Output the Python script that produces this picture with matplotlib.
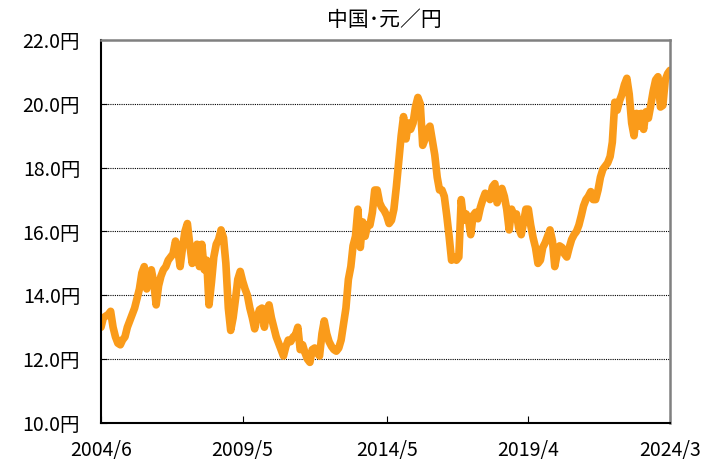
import matplotlib
matplotlib.use("Agg")
import matplotlib.pyplot as plt
import pandas as pd

plt.rcParams['font.family'] = ['Noto Sans CJK JP', 'DejaVu Sans']

title = "中国･元／円"
start_month = "2004-06-01"
rate = [
    13.0, 13.3, 13.35, 13.4, 13.5, 13.0, 12.7, 12.5, 12.45, 12.6,
    12.7, 13.0, 13.2, 13.4, 13.6, 13.9, 14.2, 14.7, 14.9, 14.2,
    14.7, 14.8, 14.4, 13.7, 14.3, 14.6, 14.8, 14.9, 15.1, 15.2,
    15.3, 15.7, 15.4, 14.9, 15.5, 16.0, 16.25, 15.6, 15.0, 15.3,
    15.6, 14.9, 15.6, 14.8, 15.1, 13.7, 14.4, 15.2, 15.6, 15.75,
    16.05, 15.8, 15.0, 13.6, 12.9, 13.3, 13.9, 14.5, 14.75, 14.45,
    14.2, 14.0, 13.6, 13.3, 12.95, 13.3, 13.55, 13.6, 13.0, 13.5,
    13.7, 13.3, 13.0, 12.7, 12.5, 12.3, 12.1, 12.4, 12.6, 12.55,
    12.7, 12.75, 13.0, 12.3, 12.45, 12.2, 12.0, 11.9, 12.3, 12.35,
    12.2, 12.1, 12.8, 13.2, 12.8, 12.55, 12.4, 12.3, 12.25, 12.35,
    12.6, 13.1, 13.6, 14.5, 14.9, 15.55, 15.85, 16.7, 15.5, 16.3,
    15.85, 16.2, 16.2, 16.6, 17.3, 17.3, 16.9, 16.75, 16.65, 16.5,
    16.25, 16.35, 16.7, 17.4, 18.2, 19.0, 19.6, 18.9, 19.4, 19.2,
    19.4, 19.9, 20.2, 20.0, 18.7, 18.9, 19.2, 19.3, 18.85, 18.4,
    17.7, 17.3, 17.3, 17.1, 16.5, 15.85, 15.1, 15.2, 15.1, 15.2,
    17.0, 16.35, 16.55, 16.4, 15.9, 16.5, 16.6, 16.4, 16.75, 17.0,
    17.2, 17.1, 17.0, 17.4, 17.5, 16.9, 17.2, 17.35, 17.1, 16.7,
    16.05, 16.7, 16.45, 16.55, 16.1, 15.9, 16.3, 16.7, 16.7, 16.2,
    15.8, 15.5, 15.0, 15.1, 15.5, 15.65, 15.85, 16.05, 15.7, 14.9,
    15.3, 15.55, 15.5, 15.3, 15.2, 15.5, 15.75, 15.9, 16.0, 16.2,
    16.5, 16.8, 17.0, 17.1, 17.25, 17.0, 17.0, 17.3, 17.7, 17.95,
    18.05, 18.15, 18.35, 18.8, 20.05, 19.8, 20.1, 20.3, 20.6, 20.8,
    20.3, 19.4, 19.0, 19.7, 19.3, 19.7, 19.2, 19.75, 19.55, 19.95,
    20.4, 20.75, 20.85, 19.9, 19.95, 20.75, 20.95, 21.05,
]
tick_dates = ["2004-06-01", "2009-05-01", "2014-05-01", "2019-04-01", "2024-03-01"]
tick_labels = ["2004/6", "2009/5", "2014/5", "2019/4", "2024/3"]
y_ticks = [10, 12, 14, 16, 18, 20, 22]

dates = pd.date_range(start_month, periods=len(rate), freq="MS")

fig = plt.figure(figsize=(7.27, 4.62), dpi=100)
ax = fig.add_axes([101/727, 1-423/462, (670-101)/727, (423-40)/462])

ax.plot(dates, rate, color='#FA9B1A', lw=5.5, solid_joinstyle='round', solid_capstyle='round')

ax.set_xlim(pd.Timestamp(tick_dates[0]), pd.Timestamp(tick_dates[-1]))
ax.set_ylim(10, 22)
ax.set_yticks(y_ticks)
ax.set_yticklabels([f"{v:.1f}円" for v in y_ticks])
ax.set_xticks(pd.to_datetime(tick_dates))
ax.set_xticklabels(tick_labels)

for v in y_ticks[1:-1]:
    ax.axhline(v, color='black', lw=0.8, ls=(0, (1, 1)), zorder=0)

ax.tick_params(axis='y', direction='in', length=4, pad=15, labelsize=14, colors='black')
ax.tick_params(axis='x', direction='in', length=5, pad=12, labelsize=14, colors='black')

ax.spines['left'].set_color('black')
ax.spines['left'].set_linewidth(1.5)
ax.spines['bottom'].set_color('black')
ax.spines['bottom'].set_linewidth(1.5)
ax.spines['top'].set_color('#808080')
ax.spines['top'].set_linewidth(1.8)
ax.spines['right'].set_color('#808080')
ax.spines['right'].set_linewidth(1.8)

fig.text(384/727, 1-20/462, title, ha='center', va='center', fontsize=15, color='black')

fig.savefig("out.png", dpi=100)
